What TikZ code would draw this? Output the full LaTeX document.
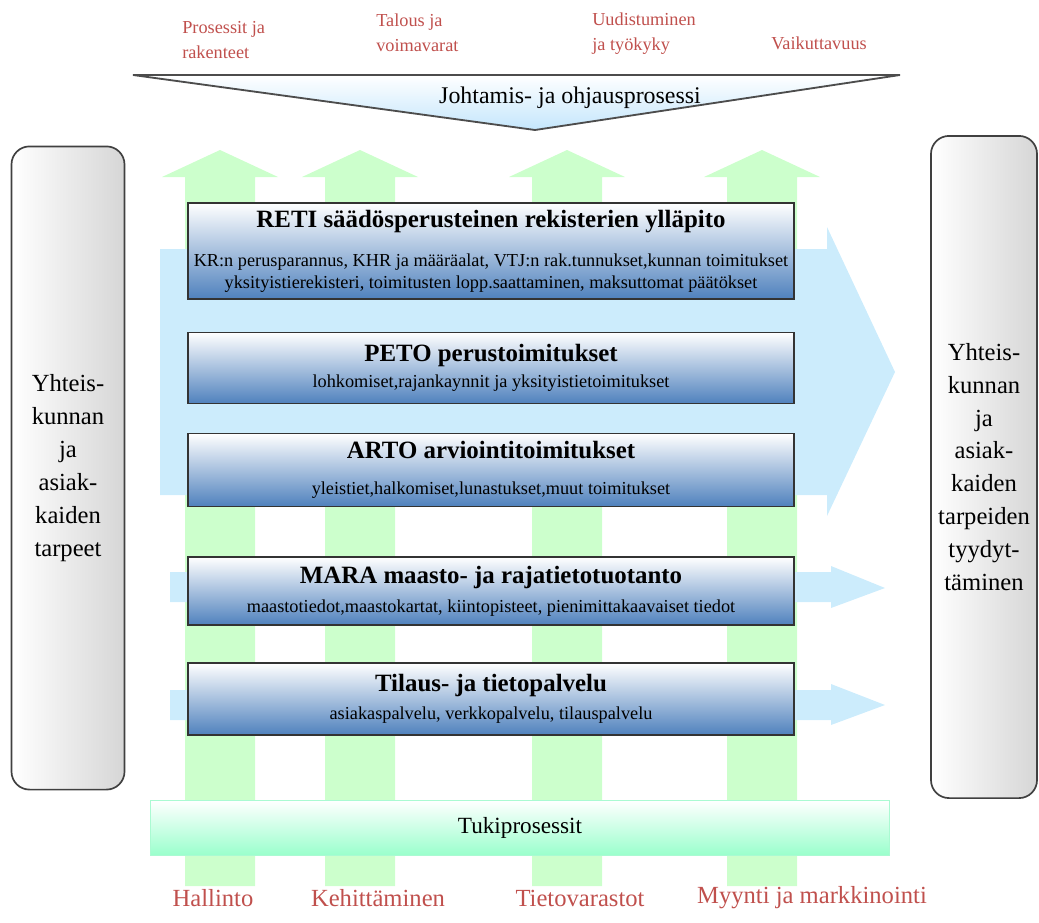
\documentclass[tikz,border=0pt]{standalone}
\usepackage{fontspec}
\setmainfont{Liberation Serif}
\usepackage{tikz}

\definecolor{flowblue}{RGB}{204,236,252}
\definecolor{flowgreen}{RGB}{204,255,204}
\definecolor{taskblue}{RGB}{79,129,189}
\definecolor{labelred}{RGB}{192,80,77}
\definecolor{mint}{RGB}{153,255,204}
\definecolor{mintline}{RGB}{170,250,210}
\definecolor{leadblue}{RGB}{196,230,252}
\definecolor{sidegray}{RGB}{214,214,214}

\begin{document}
\begin{tikzpicture}[x=0.025cm,y=-0.025cm,every node/.style={inner sep=0pt},
  task/.style={draw=black!80,line width=1pt,top color=white,bottom color=taskblue,minimum width=15.15cm,align=center,font=\fontsize{13}{15.6}\selectfont},
  side/.style={draw=black!75,line width=1.2pt,rounded corners=0.45cm,left color=white,right color=sidegray,align=center,font=\fontsize{17.5}{23.4}\selectfont},
  toplabel/.style={text=labelred,align=left,anchor=west,font=\fontsize{13}{17.7}\selectfont},
  baselabel/.style={text=labelred,font=\fontsize{17.5}{20}\selectfont},
  uparrow/.style={fill=flowgreen},
  sidearrow/.style={fill=flowblue}]
\useasboundingbox (0,0) rectangle (1039,922);
% green flows up
\fill[uparrow] (185,886) -- (185,177) -- (162,177) -- (220,150) -- (278,177) -- (255,177) -- (255,886) -- cycle;
\fill[uparrow] (325,886) -- (325,177) -- (302,177) -- (360,150) -- (418,177) -- (395,177) -- (395,886) -- cycle;
\fill[uparrow] (532,886) -- (532,177) -- (509,177) -- (567,150) -- (625,177) -- (602,177) -- (602,886) -- cycle;
\fill[uparrow] (727,886) -- (727,177) -- (704,177) -- (762,150) -- (820,177) -- (797,177) -- (797,886) -- cycle;
% blue flows to the right
\fill[sidearrow] (160,249) -- (827,249) -- (827,227) -- (895,372) -- (827,516) -- (827,495) -- (160,495) -- cycle;
\fill[sidearrow] (170,572) -- (831,572) -- (831,566) -- (885,588) -- (831,608) -- (831,602) -- (170,602) -- cycle;
\fill[sidearrow] (170,690) -- (831,690) -- (831,684) -- (885,705) -- (831,725) -- (831,720) -- (170,720) -- cycle;
% lead process
\draw[draw=black!70,line width=1.3pt,top color=white,bottom color=leadblue] (133,75) -- (900,75) -- (535,130) -- cycle;
\node[font=\fontsize{17}{20}\selectfont] (lead) at (570,98) {Johtamis- ja ohjausprosessi};
\node[toplabel] (procs)   at (182,40) {Prosessit ja\\rakenteet};
\node[toplabel] (finance) at (376,33) {Talous ja\\voimavarat};
\node[toplabel] (renewal) at (592,34) {Uudistuminen\\ja työkyky};
\node[toplabel] (impact)  at (771,43) {Vaikuttavuus};
% core processes
\node[task,minimum height=2.4cm]   (reti)   at (491,251) {{\fontsize{17.7}{20}\selectfont\bfseries RETI säädösperusteinen rekisterien ylläpito}\\[12pt]KR:n perusparannus, KHR ja määräalat, VTJ:n rak.tunnukset,kunnan toimitukset\\yksityistierekisteri, toimitusten lopp.saattaminen, maksuttomat päätökset};
\node[task,minimum height=1.775cm] (peto)   at (491,368) {{\fontsize{17.7}{20}\selectfont\bfseries PETO perustoimitukset}\\[3pt]lohkomiset,rajankaynnit ja yksityistietoimitukset};
\node[task,minimum height=1.825cm] (arto)   at (491,470) {{\fontsize{17.7}{20}\selectfont\bfseries ARTO arviointitoimitukset}\\[10pt]yleistiet,halkomiset,lunastukset,muut toimitukset};
\node[task,minimum height=1.7cm]   (mara)   at (491,591) {{\fontsize{17.7}{20}\selectfont\bfseries MARA maasto- ja rajatietotuotanto}\\[5pt]maastotiedot,maastokartat, kiintopisteet, pienimittakaavaiset tiedot};
\node[task,minimum height=1.8cm]   (tilaus) at (491,699) {{\fontsize{17.7}{20}\selectfont\bfseries Tilaus- ja tietopalvelu}\\[4pt]asiakaspalvelu, verkkopalvelu, tilauspalvelu};
% customers
\node[side,minimum width=2.825cm,minimum height=16.075cm] (needs)  at (68,468) {Yhteis-\\kunnan\\ja\\asiak-\\kaiden\\tarpeet};
\node[side,minimum width=2.65cm,minimum height=16.55cm]   (result) at (984,467) {Yhteis-\\kunnan\\ja\\asiak-\\kaiden\\tarpeiden\\tyydyt-\\täminen};
% support
\node[draw=mintline,line width=1pt,top color=white,bottom color=mint,minimum width=18.475cm,minimum height=1.375cm,font=\fontsize{16.5}{20}\selectfont] (tuki) at (520,828) {Tukiprosessit};
\node[baselabel] (admin)   at (213,898) {Hallinto};
\node[baselabel] (develop) at (378,898) {Kehittäminen};
\node[baselabel] (stores)  at (580,898) {Tietovarastot};
\node[baselabel] (sales)   at (812,898) {Myynti ja markkinointi};
\end{tikzpicture}
\end{document}
